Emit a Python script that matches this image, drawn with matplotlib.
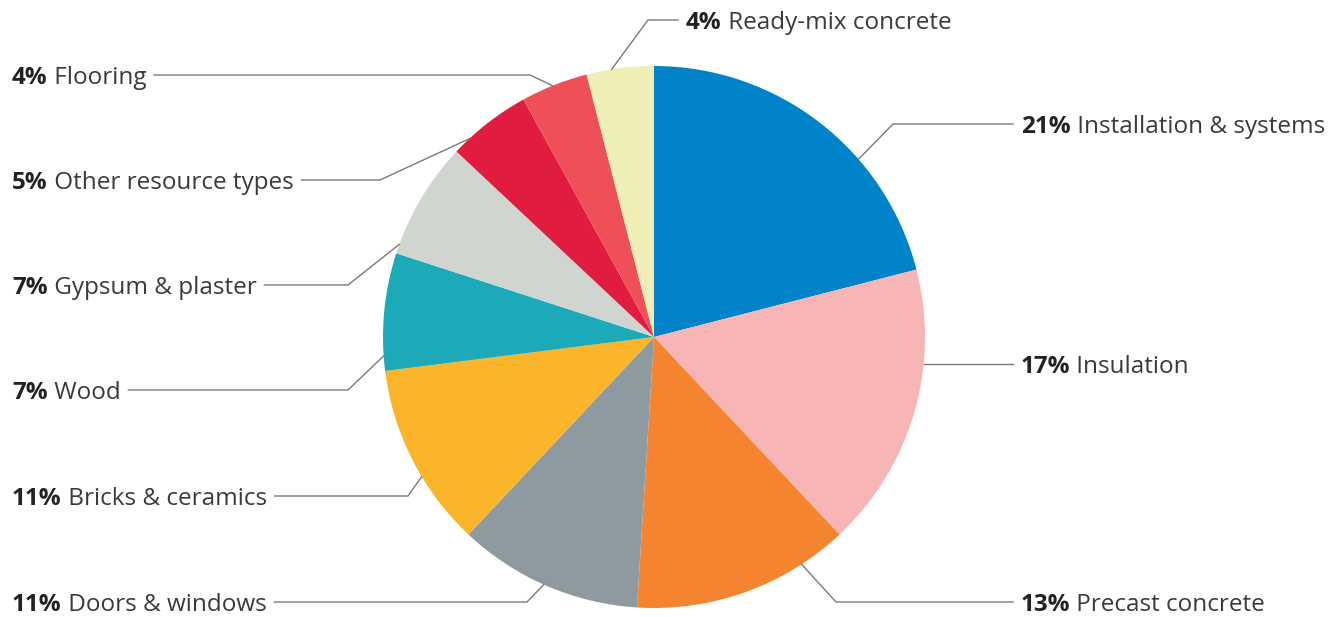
import matplotlib
matplotlib.use("Agg")
import matplotlib.pyplot as plt
import numpy as np

# data
categories = ["Installation & systems", "Insulation", "Precast concrete",
              "Doors & windows", "Bricks & ceramics", "Wood", "Gypsum & plaster",
              "Other resource types", "Flooring", "Ready-mix concrete"]
shares = [21, 17, 13, 11, 11, 7, 7, 5, 4, 4]
colors = ["#0083C8", "#F7B5B6", "#F58430", "#8F9AA0", "#FBB52A", "#1CA9B8",
          "#D0D5CF", "#E01C40", "#EF4F57", "#EFEEB6"]

# label layout (pixel space, y from top)
W, H = 1343, 617
CX, CY, R = 654, 337, 271
anchor_ang = [41, 354, 303, 246, 211, 184, 160, 133, 112, 99]  # deg, where leader meets the pie
label_y = [124, 364, 602, 602, 496, 390, 285, 180, 75, 20]
elbow_x = [893, None, 836, 527, 408, 348, 348, 380, 530, 648]
side = ["r", "r", "r", "l", "l", "l", "l", "l", "l", "r"]
text_x = [1021, 1021, 1021, 12, 12, 12, 12, 12, 12, 686]

TXT = "#3a3a3a"
LINE = "#7a7a7a"
FONT = "Open Sans"
FS = 17.5

fig = plt.figure(figsize=(W / 100, H / 100), dpi=100)
ax = fig.add_axes([0, 0, 1, 1])
ax.pie(shares, colors=colors, startangle=90, counterclock=False,
       center=(CX, H - CY), radius=R, wedgeprops=dict(linewidth=0))
ax.set_xlim(0, W)
ax.set_ylim(0, H)
ax.set_aspect("equal")
ax.axis("off")

labels = []
for i, name in enumerate(categories):
    y = H - label_y[i] - 3
    t1 = ax.text(text_x[i], y, f"{shares[i]}%", fontsize=FS, fontweight="bold",
                 family=FONT, color="#222222", va="center", ha="left")
    t2 = ax.annotate(" " + name, xy=(1, 0.5), xycoords=t1, fontsize=FS,
                     family=FONT, color=TXT, va="center", ha="left")
    labels.append((t1, t2))

fig.canvas.draw()
inv = ax.transData.inverted()
for i, (t1, t2) in enumerate(labels):
    y = H - label_y[i]
    a = np.deg2rad(anchor_ang[i])
    px = CX + R * np.cos(a)
    py = (H - CY) + R * np.sin(a)
    if side[i] == "r":
        x_end = inv.transform(t1.get_window_extent())[0][0] - 8
    else:
        x_end = inv.transform(t2.get_window_extent())[1][0] + 8
    if elbow_x[i] is None:
        xs, ys = [px, x_end], [y, y]
    else:
        xs, ys = [px, elbow_x[i], x_end], [py, y, y]
    ax.plot(xs, ys, color=LINE, linewidth=1.0, zorder=5, solid_joinstyle="miter")

fig.savefig("out.png", dpi=100)
